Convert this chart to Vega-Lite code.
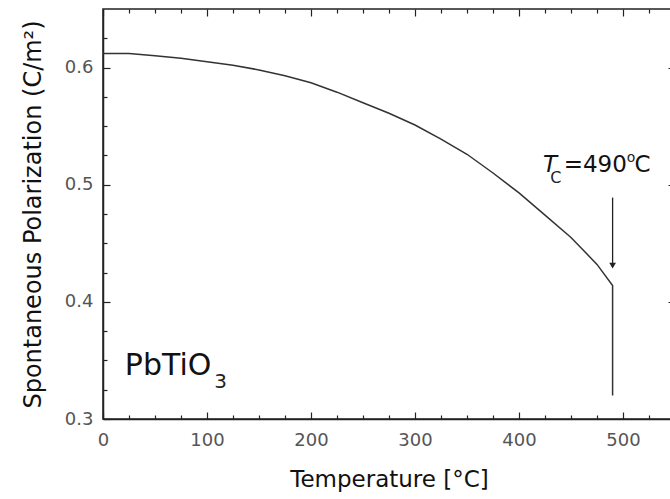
{
  "$schema": "https://vega.github.io/schema/vega-lite/v6.json",
  "width": 572,
  "height": 410,
  "autosize": "none",
  "padding": {"left": 103, "top": 9, "right": 0, "bottom": 80},
  "background": "white",
  "config": {
    "font": "DejaVu Sans",
    "view": {"stroke": "#222", "strokeWidth": 1.5},
    "axis": {"grid": false, "domainColor": "#222", "tickColor": "#222", "domainWidth": 1.5, "tickWidth": 1.2, "labelFont": "DejaVu Sans", "titleFont": "DejaVu Sans"},
    "text": {"font": "DejaVu Sans"}
  },
  "datasets": {
    "curve": [
      {"i": 1, "T": 0, "P": 0.612},
      {"i": 2, "T": 25, "P": 0.612},
      {"i": 3, "T": 50, "P": 0.610},
      {"i": 4, "T": 75, "P": 0.608},
      {"i": 5, "T": 100, "P": 0.605},
      {"i": 6, "T": 125, "P": 0.602},
      {"i": 7, "T": 150, "P": 0.598},
      {"i": 8, "T": 175, "P": 0.593},
      {"i": 9, "T": 200, "P": 0.587},
      {"i": 10, "T": 225, "P": 0.579},
      {"i": 11, "T": 250, "P": 0.570},
      {"i": 12, "T": 275, "P": 0.561},
      {"i": 13, "T": 300, "P": 0.551},
      {"i": 14, "T": 325, "P": 0.539},
      {"i": 15, "T": 350, "P": 0.526},
      {"i": 16, "T": 375, "P": 0.510},
      {"i": 17, "T": 400, "P": 0.493},
      {"i": 18, "T": 425, "P": 0.474},
      {"i": 19, "T": 450, "P": 0.455},
      {"i": 20, "T": 475, "P": 0.432},
      {"i": 21, "T": 490, "P": 0.414},
      {"i": 22, "T": 490, "P": 0.320}
    ],
    "arrow": [{"T": 490, "P1": 0.489, "P2": 0.433, "Ptip": 0.431}],
    "labels": [
      {"T": 21, "P": 0.3375, "text": "PbTiO", "size": 30},
      {"T": 443, "P": 0.5108, "text": "=490", "size": 23},
      {"T": 511, "P": 0.5108, "text": "C", "size": 23}
    ],
    "small": [
      {"T": 107, "P": 0.3265, "text": "3", "size": 20},
      {"T": 503.5, "P": 0.5195, "text": "o", "size": 14},
      {"T": 430, "P": 0.5014, "text": "C", "size": 16}
    ],
    "italic": [{"T": 423, "P": 0.5108, "text": "T"}]
  },
  "resolve": {"axis": {"x": "independent", "y": "independent"}},
  "layer": [
    {
      "data": {"name": "curve"},
      "mark": {"type": "line", "color": "#333", "strokeWidth": 1.5},
      "encoding": {
        "x": {"field": "T", "type": "quantitative", "scale": {"domain": [0, 550], "nice": false},
          "axis": {"orient": "bottom", "values": [0, 100, 200, 300, 400, 500], "labelFlush": false, "tickSize": -7, "labelPadding": 19, "labelFontSize": 18, "labelColor": "#555", "title": "Temperature [°C]", "titleFontSize": 23, "titleFontWeight": "normal", "titleColor": "#111", "titlePadding": 19}},
        "y": {"field": "P", "type": "quantitative", "scale": {"domain": [0.3, 0.65], "nice": false, "zero": false},
          "axis": {"orient": "left", "values": [0.3, 0.4, 0.5, 0.6], "format": ".1f", "labelFlush": false, "tickSize": -7, "labelPadding": 17, "labelFontSize": 18, "labelColor": "#555", "title": "Spontaneous Polarization (C/m²)", "titleFontSize": 24, "titleFontWeight": "normal", "titleColor": "#111", "titlePadding": 19}},
        "order": {"field": "i", "type": "quantitative"}
      }
    },
    {
      "data": {"name": "curve"},
      "mark": {"type": "point", "opacity": 0},
      "encoding": {
        "x": {"field": "T", "type": "quantitative", "scale": {"domain": [0, 550], "nice": false},
          "axis": {"orient": "bottom", "values": [25, 50, 75, 125, 150, 175, 225, 250, 275, 325, 350, 375, 425, 450, 475, 525], "tickSize": -4, "labels": false, "domain": false, "title": null}},
        "y": {"field": "P", "type": "quantitative", "scale": {"domain": [0.3, 0.65], "nice": false, "zero": false},
          "axis": {"orient": "left", "values": [0.325, 0.35, 0.375, 0.425, 0.45, 0.475, 0.525, 0.55, 0.575, 0.625], "tickSize": -4, "labels": false, "domain": false, "title": null}}
      }
    },
    {
      "data": {"name": "curve"},
      "mark": {"type": "point", "opacity": 0},
      "encoding": {
        "x": {"field": "T", "type": "quantitative", "scale": {"domain": [0, 550], "nice": false},
          "axis": {"orient": "top", "values": [0, 100, 200, 300, 400, 500], "tickSize": -7, "labels": false, "domain": false, "title": null}},
        "y": {"field": "P", "type": "quantitative", "scale": {"domain": [0.3, 0.65], "nice": false, "zero": false},
          "axis": {"orient": "right", "values": [0.3, 0.4, 0.5, 0.6], "tickSize": -7, "labels": false, "domain": false, "title": null}}
      }
    },
    {
      "data": {"name": "curve"},
      "mark": {"type": "point", "opacity": 0},
      "encoding": {
        "x": {"field": "T", "type": "quantitative", "scale": {"domain": [0, 550], "nice": false},
          "axis": {"orient": "top", "values": [25, 50, 75, 125, 150, 175, 225, 250, 275, 325, 350, 375, 425, 450, 475, 525], "tickSize": -4, "labels": false, "domain": false, "title": null}},
        "y": {"field": "P", "type": "quantitative", "scale": {"domain": [0.3, 0.65], "nice": false, "zero": false},
          "axis": {"orient": "right", "values": [0.325, 0.35, 0.375, 0.425, 0.45, 0.475, 0.525, 0.55, 0.575, 0.625], "tickSize": -4, "labels": false, "domain": false, "title": null}}
      }
    },
    {
      "data": {"name": "arrow"},
      "mark": {"type": "rule", "color": "#222", "strokeWidth": 1.3},
      "encoding": {
        "x": {"field": "T", "type": "quantitative", "axis": null},
        "y": {"field": "P1", "type": "quantitative", "axis": null},
        "y2": {"field": "P2"}
      }
    },
    {
      "data": {"name": "arrow"},
      "mark": {"type": "point", "shape": "triangle-down", "filled": true, "color": "#222", "size": 45, "opacity": 1},
      "encoding": {
        "x": {"field": "T", "type": "quantitative", "axis": null},
        "y": {"field": "Ptip", "type": "quantitative", "axis": null}
      }
    },
    {
      "data": {"name": "labels"},
      "mark": {"type": "text", "align": "left", "baseline": "alphabetic", "color": "#111"},
      "encoding": {
        "x": {"field": "T", "type": "quantitative", "axis": null},
        "y": {"field": "P", "type": "quantitative", "axis": null},
        "text": {"field": "text"},
        "size": {"field": "size", "type": "quantitative", "scale": null}
      }
    },
    {
      "data": {"name": "small"},
      "mark": {"type": "text", "align": "left", "baseline": "alphabetic", "color": "#222"},
      "encoding": {
        "x": {"field": "T", "type": "quantitative", "axis": null},
        "y": {"field": "P", "type": "quantitative", "axis": null},
        "text": {"field": "text"},
        "size": {"field": "size", "type": "quantitative", "scale": null}
      }
    },
    {
      "data": {"name": "italic"},
      "mark": {"type": "text", "align": "left", "baseline": "alphabetic", "color": "#111", "fontSize": 23, "fontStyle": "italic"},
      "encoding": {
        "x": {"field": "T", "type": "quantitative", "axis": null},
        "y": {"field": "P", "type": "quantitative", "axis": null},
        "text": {"field": "text"}
      }
    }
  ]
}
